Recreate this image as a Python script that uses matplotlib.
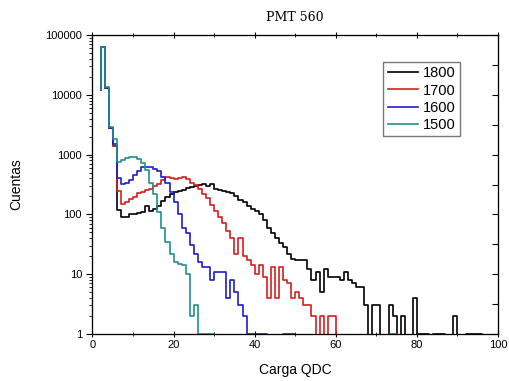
import numpy as np
import matplotlib
matplotlib.use("Agg")
import matplotlib.pyplot as plt
from matplotlib.ticker import FixedLocator, NullFormatter, LogLocator

# cuentas por canal QDC (el primer valor es el punto de arranque del trazo)
canal_inicio = 2

cuentas_1800 = [12000, 63000, 13000, 2800, 1400, 117, 90, 90, 100, 103, 106, 110, 140, 112,
                125, 140, 165, 195, 220, 240, 250, 260, 275, 290, 300, 310, 320, 300, 320,
                270, 260, 250, 240, 225, 200, 175, 160, 140, 125, 115, 100, 80, 60, 48, 40,
                33, 28, 22, 18, 17, 17, 17, 12, 8, 11, 5, 12, 9, 9, 9, 8, 11, 8, 7, 6, 6,
                3, 0, 3, 3, 0, 0, 3, 2, 0, 2, 0, 0, 4, 1, 1, 1, 0, 1, 1, 1, 0, 0, 2, 0, 0,
                1, 1, 1, 1, 0]
cuentas_1700 = [12000, 63000, 13000, 2800, 1400, 250, 150, 162, 184, 195, 225, 240, 255, 270,
                300, 325, 380, 420, 400, 390, 410, 430, 390, 340, 310, 270, 220, 185, 145,
                115, 92, 72, 52, 40, 22, 40, 20, 17, 14, 10, 14, 9, 4, 13, 4, 13, 8, 7, 4,
                5, 4, 3, 3, 2, 0, 2, 0, 2, 2, 0, 0, 0, 0, 0, 0, 0, 0, 0, 0, 0, 0, 0, 1, 1, 0]
cuentas_1600 = [12000, 63000, 13000, 2800, 1500, 400, 320, 330, 380, 460, 540, 620, 620, 610,
                580, 530, 430, 330, 240, 160, 100, 60, 48, 31, 22, 16, 13, 13, 8, 11, 11,
                11, 4, 8, 5, 3, 2, 1, 1, 1, 1, 1, 0, 0, 0, 0, 1, 1, 1, 0]
cuentas_1500 = [12000, 63000, 13500, 2900, 1850, 750, 800, 880, 920, 920, 860, 720, 550, 330,
                220, 110, 60, 35, 22, 16, 15, 14, 10, 2, 3, 1, 1, 1, 1, 0]

series = [("1800", cuentas_1800, "#000000"),
          ("1700", cuentas_1700, "#d81e1e"),
          ("1600", cuentas_1600, "#1c1ccf"),
          ("1500", cuentas_1500, "#21908f")]

plt.rcParams["font.family"] = ["Liberation Sans", "DejaVu Sans"]

fig = plt.figure(figsize=(5.09, 3.81), dpi=100)
ax = fig.add_axes([0.1817, 0.1234, 0.7967, 0.7846])

for nombre, c, color in series:
    x = np.arange(canal_inicio, canal_inicio + len(c))
    ax.step(x, c, where="pre", color=color, lw=1.2, label=nombre)

ax.set_yscale("log")
ax.set_xlim(0, 100)
ax.set_ylim(1, 100000)

ax.xaxis.set_major_locator(FixedLocator(np.arange(0, 101, 20)))
ax.xaxis.set_minor_locator(FixedLocator(np.arange(10, 100, 20)))
ax.yaxis.set_minor_locator(LogLocator(base=10, subs=np.arange(2, 10)))
ax.yaxis.set_minor_formatter(NullFormatter())
ax.set_yticks([1, 10, 100, 1000, 10000, 100000])
ax.set_yticklabels(["1", "10", "100", "1000", "10000", "100000"])

ax.tick_params(axis="both", which="major", labelsize=8, length=4, width=0.8,
               top=True, right=False, direction="out")
ax.tick_params(axis="both", which="minor", length=2.5, width=0.6, top=True, right=False)
ax.tick_params(axis="x", which="both", direction="inout")
ax.tick_params(axis="x", which="major", pad=2)

# ticks del eje derecho cada media década
der = ax.twinx()
der.set_yscale("log")
der.set_ylim(1, 100000)
der.yaxis.set_major_locator(FixedLocator(10 ** np.arange(0, 5.01, 0.5)))
der.yaxis.set_minor_locator(FixedLocator([]))
der.yaxis.set_major_formatter(NullFormatter())
der.tick_params(axis="y", direction="in", length=4, width=0.8)

for sp in ax.spines.values():
    sp.set_linewidth(0.9)
    sp.set_color("#333333")

ax.set_xlabel("Carga QDC", fontsize=10, labelpad=10)
ax.set_ylabel("Cuentas", fontsize=10, labelpad=16)
ax.set_title("PMT 560", fontsize=9, family="DejaVu Serif", pad=10)

ax.legend(loc="upper right", bbox_to_anchor=(0.906, 0.91), fontsize=10.5,
          frameon=True, fancybox=False, edgecolor="#555555", handlelength=2.1,
          handletextpad=0.3, borderpad=0.3, labelspacing=0.22, borderaxespad=0.0)

fig.savefig("out.png", dpi=100)
